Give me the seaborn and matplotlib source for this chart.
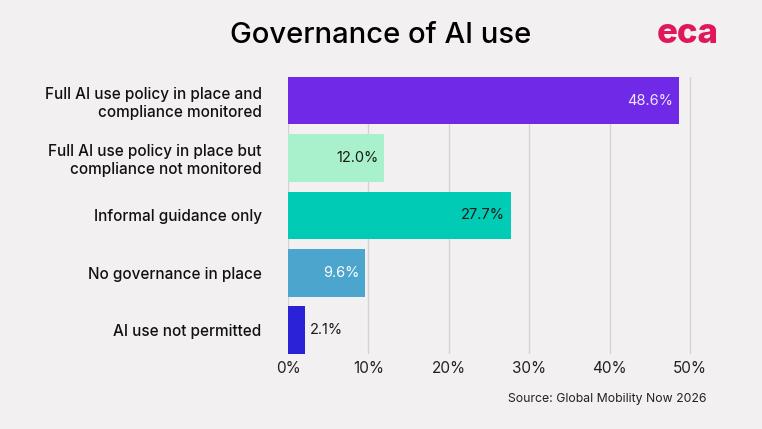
import matplotlib as mpl
mpl.use('Agg')
from matplotlib import pyplot as plt
import seaborn as sns
import pandas as pd

categories = ["Full AI use policy in place and\ncompliance monitored",
              "Full AI use policy in place but\ncompliance not monitored",
              "Informal guidance only",
              "No governance in place",
              "AI use not permitted"]
values = [48.6, 12.0, 27.7, 9.6, 2.1]
colors = ["#7029e6", "#a9f0cd", "#00ccb5", "#4ba5cd", "#2b22d8"]
label_colors = ["#efe6ff", "#1a1a1a", "#1a1a1a", "#ffffff", "#1a1a1a"]
xticks = [0, 10, 20, 30, 40, 50]

bg = "#f2f0f1"
sns.set_style("white")
plt.rcParams['font.family'] = ['Inter', 'DejaVu Sans']

df = pd.DataFrame({"cat": categories, "val": values})

fig = plt.figure(figsize=(7.62, 4.29), dpi=100, facecolor=bg)
ax = fig.add_axes([0.378, 0.175, 0.538, 0.646])
ax.set_facecolor(bg)
ax.set_axisbelow(True)
ax.grid(axis="x", color="#d4d2d3", linewidth=1)

sns.barplot(data=df, x="val", y="cat", hue="cat", palette=colors,
            legend=False, width=0.83, ax=ax, saturation=1, linewidth=0)

ax.set_xlim(0, 51)
ax.set_ylim(4.415, -0.415)
ax.set_xticks(xticks)
ax.set_xticklabels([f"{t}%" for t in xticks], fontsize=11, color="#222222")
ax.tick_params(axis="x", length=0, pad=5)
ax.tick_params(axis="y", length=0, pad=19)
for lab in ax.get_yticklabels():
    lab.set_fontsize(11)
    lab.set_fontweight("medium")
    lab.set_color("#111111")
    lab.set_multialignment("right")
ax.set_xlabel("")
ax.set_ylabel("")
for s in ax.spines.values():
    s.set_visible(False)

for i, p in enumerate(ax.patches):
    w = p.get_width()
    yc = p.get_y() + p.get_height() / 2
    txt = f"{values[i]:.1f}%"
    if w > 5:
        ax.text(w - 0.7, yc, txt, ha="right", va="center", fontsize=10.5,
                color=label_colors[i])
    else:
        ax.text(w + 0.6, yc, txt, ha="left", va="center", fontsize=10.5,
                color=label_colors[i])

fig.text(0.5, 0.918, "Governance of AI use", ha="center", va="center",
         fontsize=21, fontweight="medium", color="#000000")
fig.text(0.903, 0.92, "eca", ha="center", va="center", fontsize=25,
         fontweight="heavy", color="#e0185a")
fig.text(0.927, 0.07, "Source: Global Mobility Now 2026", ha="right",
         va="center", fontsize=8.8, color="#222222")

fig.savefig("out.png", dpi=100, facecolor=bg)
